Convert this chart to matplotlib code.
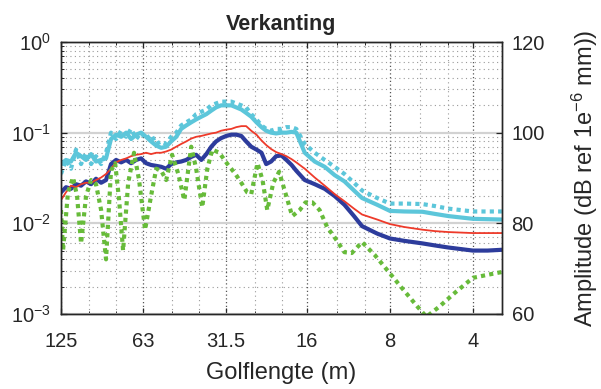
import matplotlib.pyplot as plt
from matplotlib.ticker import FixedLocator, NullFormatter

plt.rcParams['font.family'] = ['Liberation Sans', 'DejaVu Sans']
plt.rcParams['mathtext.fontset'] = 'custom'
plt.rcParams['mathtext.rm'] = 'Liberation Sans'
plt.rcParams['mathtext.default'] = 'regular'

# golflengte-raster (m) voor de doorgetrokken lijnen
golflengte = [125.0, 119.9, 115.0, 110.3, 105.7, 101.4, 97.2, 93.3, 89.4, 85.8,
              82.3, 78.9, 75.6, 72.5, 69.6, 66.7, 64.0, 61.4, 58.9, 56.4,
              54.1, 51.9, 49.8, 47.7, 45.8, 43.9, 42.1, 40.4, 38.7, 37.1,
              35.6, 34.2, 32.8, 31.4, 30.1, 28.9, 27.7, 26.6, 25.5, 24.4,
              23.4, 22.5, 21.6, 20.7, 19.8, 19.0, 18.2, 17.5, 16.3, 15.0,
              13.8, 12.7, 11.7, 10.8, 10.1, 8.9, 8.0, 7.1, 6.1, 5.5,
              4.9, 4.0, 3.54, 3.14]

cyaan = [0.045, 0.05, 0.048, 0.06, 0.055, 0.05, 0.058, 0.048, 0.05, 0.052,
         0.085, 0.095, 0.09, 0.1, 0.085, 0.095, 0.1, 0.09, 0.08, 0.072,
         0.068, 0.07, 0.08, 0.09, 0.11, 0.12, 0.13, 0.14, 0.15, 0.16,
         0.175, 0.19, 0.2, 0.2, 0.2, 0.19, 0.18, 0.165, 0.15, 0.13,
         0.115, 0.105, 0.1, 0.098, 0.1, 0.1, 0.102, 0.1, 0.06, 0.048,
         0.042, 0.034, 0.029, 0.023, 0.019, 0.016, 0.0137, 0.0135, 0.0134, 0.0127,
         0.012, 0.0112, 0.0111, 0.011]

cyaan_stip = [0.035, 0.05, 0.04, 0.065, 0.045, 0.06, 0.045, 0.055, 0.045, 0.06,
              0.1, 0.085, 0.105, 0.09, 0.11, 0.085, 0.1, 0.085, 0.095, 0.075,
              0.08, 0.075, 0.09, 0.1, 0.12, 0.13, 0.14, 0.16, 0.17, 0.18,
              0.2, 0.21, 0.22, 0.22, 0.22, 0.21, 0.2, 0.19, 0.16, 0.14,
              0.12, 0.11, 0.105, 0.11, 0.11, 0.115, 0.115, 0.11, 0.075, 0.06,
              0.05, 0.042, 0.035, 0.028, 0.023, 0.019, 0.0165, 0.0165, 0.0163, 0.0155,
              0.0145, 0.0135, 0.0135, 0.0135]

rood = [0.018, 0.022, 0.026, 0.025, 0.027, 0.028, 0.028, 0.03, 0.032, 0.035,
        0.04, 0.047, 0.05, 0.052, 0.055, 0.057, 0.058, 0.06, 0.058, 0.06,
        0.06, 0.062, 0.065, 0.07, 0.075, 0.08, 0.086, 0.09, 0.092, 0.095,
        0.098, 0.1, 0.105, 0.108, 0.11, 0.115, 0.118, 0.118, 0.105, 0.095,
        0.082, 0.073, 0.066, 0.061, 0.058, 0.055, 0.051, 0.047, 0.04, 0.032,
        0.026, 0.021, 0.0175, 0.0145, 0.0125, 0.011, 0.0098, 0.0091, 0.0085, 0.0082,
        0.008, 0.0078, 0.0078, 0.0078]

blauw = [0.022, 0.025, 0.024, 0.027, 0.026, 0.029, 0.027, 0.031, 0.028, 0.03,
         0.045, 0.05, 0.047, 0.05, 0.046, 0.05, 0.052, 0.046, 0.044, 0.043,
         0.042, 0.04, 0.045, 0.047, 0.048, 0.05, 0.054, 0.057, 0.05, 0.058,
         0.07, 0.08, 0.087, 0.092, 0.095, 0.095, 0.092, 0.08, 0.07, 0.065,
         0.06, 0.045, 0.048, 0.055, 0.056, 0.05, 0.044, 0.038, 0.03, 0.027,
         0.024, 0.02, 0.016, 0.012, 0.0093, 0.0077, 0.0068, 0.0064, 0.006, 0.0057,
         0.0054, 0.005, 0.005, 0.0051]

# groene stippellijn heeft eigen punten (pieken en dalen)
golflengte_groen = [125.0, 122.9, 117.9, 113.1, 109.3, 105.7, 101.4, 97.2, 93.3, 89.4,
                    85.8, 82.3, 79.5, 76.9, 74.4, 71.3, 67.9, 65.1, 61.9, 58.9,
                    56.4, 54.1, 51.9, 49.4, 46.9, 44.6, 42.1, 40.4, 38.4, 36.8,
                    35.3, 33.3, 31.1, 29.1, 27.5, 26.4, 25.5, 24.2, 23.2, 22.3,
                    21.2, 20.2, 19.2, 18.1, 17.0, 16.2, 15.3, 14.4, 13.5, 12.7,
                    11.7, 11.0, 10.1, 9.1, 8.0, 7.1, 6.35, 5.9, 5.3, 4.66,
                    4.0, 3.54, 3.14]
groen = [0.014, 0.005, 0.022, 0.032, 0.02, 0.006, 0.02, 0.03, 0.027, 0.014,
         0.004, 0.038, 0.046, 0.018, 0.005, 0.028, 0.06, 0.03, 0.0085, 0.02,
         0.04, 0.038, 0.03, 0.057, 0.035, 0.018, 0.07, 0.04, 0.015, 0.04,
         0.065, 0.06, 0.045, 0.035, 0.027, 0.022, 0.021, 0.046, 0.03, 0.014,
         0.028, 0.037, 0.022, 0.012, 0.014, 0.017, 0.017, 0.014, 0.009, 0.007,
         0.0048, 0.0047, 0.0062, 0.0045, 0.0028, 0.0018, 0.0012, 0.00093, 0.0012, 0.0017,
         0.0025, 0.0027, 0.0029]

x_ticks = [125, 63, 31.5, 16, 8, 4]
x_labels = ['125', '63', '31.5', '16', '8', '4']
y_ticks = [1e-3, 1e-2, 1e-1, 1]
y_labels = ['10$^{-3}$', '10$^{-2}$', '10$^{-1}$', '10$^{0}$']
db_ticks = [60, 80, 100, 120]

tekst = '#262626'

fig = plt.figure(figsize=(6.01, 3.89), dpi=100)
ax = fig.add_axes([0.1015, 0.193, 0.7335, 0.699])

ax.plot(golflengte, cyaan, color='#5cc6da', lw=3.0, solid_joinstyle='round')
ax.plot(golflengte, cyaan_stip, color='#5cc6da', lw=3.0, dashes=(1, 1))
ax.plot(golflengte, blauw, color='#2d3c9c', lw=3.0, solid_joinstyle='round')
ax.plot(golflengte, rood, color='#ee3a2a', lw=1.3)
ax.plot(golflengte_groen, groen, color='#67bb3a', lw=3.0, dashes=(1, 1))

ax.set_xscale('log')
ax.set_yscale('log')
ax.set_xlim(125, 3.14)
ax.set_ylim(1e-3, 1)

ax.xaxis.set_major_locator(FixedLocator(x_ticks))
ax.set_xticklabels(x_labels)
minor_x = [125 * 2 ** (-k / 3) for k in range(1, 17) if k % 3]
ax.xaxis.set_minor_locator(FixedLocator(minor_x))
ax.xaxis.set_minor_formatter(NullFormatter())

ax.yaxis.set_major_locator(FixedLocator(y_ticks))
ax.set_yticklabels(y_labels)
minor_y = [m * 10.0 ** e for e in range(-3, 0) for m in range(2, 10)]
ax.yaxis.set_minor_locator(FixedLocator(minor_y))
ax.yaxis.set_minor_formatter(NullFormatter())

ax.set_axisbelow(True)
ax.grid(which='major', axis='y', linestyle='-', color='#d2d2d2', lw=1.6)
ax.grid(which='major', axis='x', linestyle=(0, (1, 2)), color='#555555', lw=0.9)
ax.grid(which='minor', axis='both', linestyle=(0, (1, 3)), color='#9a9a9a', lw=0.8)

ax.tick_params(which='both', direction='in', top=True, right=False,
               colors=tekst, labelsize=14.5)
ax.tick_params(which='major', length=4, width=0.9)
ax.tick_params(which='minor', length=2, width=0.7)
ax.tick_params(axis='x', pad=13)
ax.tick_params(axis='y', pad=7)
for s in ax.spines.values():
    s.set_color(tekst)
    s.set_linewidth(1.0)

ax2 = ax.twinx()
ax2.set_ylim(60, 120)
ax2.set_yticks(db_ticks)
ax2.tick_params(direction='in', length=4, width=0.9, colors=tekst,
                labelsize=14.5, pad=7)
for s in ax2.spines.values():
    s.set_color(tekst)
    s.set_linewidth(1.0)
ax2.set_ylabel('Amplitude (dB ref 1e$^{-6}$ mm))', fontsize=17, color=tekst, labelpad=18)

ax.set_xlabel('Golflengte (m)', fontsize=17, color=tekst, labelpad=8)
ax.set_title('Verkanting', fontsize=15.5, fontweight='bold', color=tekst, pad=9)

fig.savefig('out.png', dpi=100)
